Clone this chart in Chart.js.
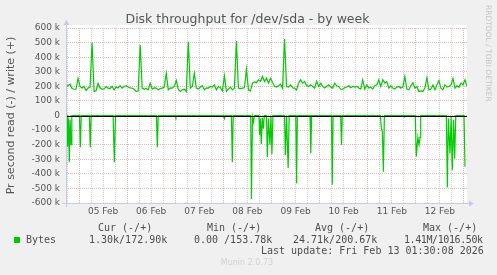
<!DOCTYPE html>
<html>
<head>
<meta charset="utf-8">
<script src="https://cdn.jsdelivr.net/npm/chart.js@4.4.1/dist/chart.umd.min.js"></script>
<style>
  body { margin: 0; background: #f0f0f0; }
  #wrap { position: relative; width: 497px; height: 275px; overflow: hidden; }
  #c { position: absolute; left: 0; top: 0; }
  .title { position: absolute; left: 0; width: 495px; top: 11px; text-align: center; font: 12.5px 'DejaVu Sans', sans-serif; color: #555555; line-height: 16px; white-space: pre; }
  .t { position: absolute; font: 10px 'DejaVu Sans Mono', monospace; color: #4d4d4d; line-height: 12px; white-space: pre; }
  .sq { position: absolute; left: 14px; top: 237px; width: 6px; height: 6px; background: #00cc00; }
  .munin { position: absolute; left: 0; width: 494px; top: 258px; text-align: center; font: 8px 'DejaVu Sans', sans-serif; color: #d2d2d2; }
  .rrd { position: absolute; left: 484px; top: 5px; writing-mode: vertical-rl; font: 7.5px 'DejaVu Sans', sans-serif; color: #c4c4c4; white-space: pre; }
</style>
</head>
<body>
<div id="wrap">
  <canvas id="c" width="497" height="275"></canvas>
  <div class="title" id="title"></div>
  <div class="rrd">RRDTOOL / TOBI OETIKER</div>
  <div class="t" style="left:98px;top:222px">Cur (-/+)</div>
  <div class="t" style="left:207px;top:222px">Min (-/+)</div>
  <div class="t" style="left:315px;top:222px">Avg (-/+)</div>
  <div class="t" style="left:423px;top:222px">Max (-/+)</div>
  <div class="sq"></div>
  <div class="t" style="left:26px;top:234px">Bytes</div>
  <div class="t" style="left:89px;top:234px">1.30k/172.90k</div>
  <div class="t" style="left:194px;top:234px">0.00 /153.78k</div>
  <div class="t" style="left:293px;top:234px">24.71k/200.67k</div>
  <div class="t" style="left:404px;top:234px;letter-spacing:-0.4px">1.41M/1016.50k</div>
  <div class="t" style="left:261px;top:245px">Last update: Fri Feb 13 01:30:08 2026</div>
  <div class="munin">Munin 2.0.73</div>
</div>
<script>
// munin diskstats throughput, /dev/sda, week view
// time axis is in hours counted from 05 Feb 00:00

var chartTitle = 'Disk throughput for /dev/sda - by week';
var yTitle = 'Pr second read (-) / write (+)';

var xMin = -6.5;
var xMax = 193.5;

var dayLabels = ['05 Feb', '06 Feb', '07 Feb', '08 Feb', '09 Feb', '10 Feb', '11 Feb', '12 Feb'];

var yTickVals = [600, 500, 400, 300, 200, 100, 0, -100, -200, -300, -400, -500, -600];
var yTickLabels = ['600 k', '500 k', '400 k', '300 k', '200 k', '100 k', '0', '-100 k', '-200 k', '-300 k', '-400 k', '-500 k', '-600 k'];

// write (+), kB/s, one sample per hour starting at writeStart
var writeStart = -6.5;
var writeVals = [
  200, 205, 215, 185, 180, 180, 255, 200, 188, 199,
  170, 188, 195, 500, 165, 170, 220, 188, 181, 182,
  199, 188, 185, 199, 176, 195, 188, 205, 188, 199,
  204, 195, 190, 188, 180, 165, 168, 485, 188, 180,
  185, 176, 222, 181, 190, 188, 176, 185, 188, 195,
  290, 176, 190, 188, 200, 240, 178, 165, 176, 180,
  165, 505, 188, 200, 290, 188, 181, 195, 205, 176,
  190, 188, 199, 195, 210, 176, 199, 190, 168, 272,
  165, 181, 195, 176, 188, 510, 188, 185, 188, 190,
  318, 176, 169, 222, 230, 225, 245, 235, 268, 233,
  256, 222, 255, 228, 200, 195, 204, 215, 188, 525,
  199, 195, 210, 190, 188, 176, 222, 245, 222, 233,
  205, 199, 210, 200, 188, 235, 199, 222, 200, 188,
  199, 210, 195, 188, 222, 204, 199, 180, 181, 190,
  195, 204, 190, 199, 195, 199, 188, 181, 245, 181,
  210, 188, 195, 181, 204, 210, 245, 199, 245, 222,
  233, 188, 204, 188, 181, 195, 199, 188, 195, 268,
  181, 176, 204, 225, 188, 199, 165, 169, 165, 188,
  260, 176, 181, 210, 176, 210, 240, 188, 176, 210,
  195, 199, 210, 255, 188, 204, 195, 222, 210, 245,
  200
];

// read (-), kB/s, samples as (hour, value)
var readTimes = [
  -6.5, -6.0, -5.65, -5.25, -4.85, -4.45, -4.0, -3.6,
  0.2, 0.65, 1.1,
  5.15, 5.6, 6.05,
  17.0, 17.6, 18.2,
  38.6, 39.05, 39.5,
  48.0, 48.3, 48.6,
  72.0, 72.5, 73.0,
  76.0, 76.45, 76.9,
  85.6, 86.0, 86.5, 87.0, 87.5,
  89.7, 90.1, 90.5, 90.9, 91.4, 91.9, 92.4,
  93.5, 93.9, 94.5, 95.2, 95.7, 96.2, 96.7,
  102.5, 102.9, 103.5, 104.3, 104.8,
  108.1, 108.5, 108.9,
  115.2, 115.6, 116.0,
  125.9, 126.3, 126.7,
  130.5, 130.9, 131.3,
  150.3, 150.8, 151.3, 151.8, 152.3,
  161.8, 162.1, 162.4,
  167.7, 168.2, 169.0, 169.6, 170.1, 170.4,
  183.2, 183.7, 184.2, 185.0, 185.6, 186.15, 186.8, 187.35, 187.9,
  192.0, 192.5
];
var readVals = [
  0, 0, -213, -20, -320, -30, -200, 0,
  0, -217, 0,
  0, -217, 0,
  0, -320, 0,
  0, -217, 0,
  0, -12, 0,
  0, -22, 0,
  0, -320, 0,
  0, -572, -10, -45, 0,
  0, -135, -20, -195, -15, -90, 0,
  0, -285, -20, -200, -10, -265, 0,
  0, -272, -10, -360, 0,
  0, -465, 0,
  0, -258, 0,
  0, -475, 0,
  0, -200, 0,
  0, -90, -110, -385, 0,
  0, -10, 0,
  0, -283, -150, -200, -150, 0,
  0, -494, -20, -261, -10, -375, -30, -295, 0,
  0, -352
];

document.getElementById('title').textContent = chartTitle;

var writeData = writeVals.map(function (v, i) { return { x: writeStart + i, y: v * 1000 }; });
var readData = readTimes.map(function (t, i) { return { x: t, y: readVals[i] * 1000 }; });

var majorGrid = 'rgba(225, 120, 120, 0.55)';
var minorGrid = 'rgba(150, 150, 150, 0.45)';
var axisBlue = '#c6c8f2';
var labelFont = { family: 'DejaVu Sans', size: 9 };

var bgPlugin = {
  id: 'bg',
  beforeDraw: function (chart) {
    var ctx = chart.ctx, a = chart.chartArea;
    ctx.save();
    ctx.fillStyle = '#f0f0f0';
    ctx.fillRect(0, 0, chart.width, chart.height);
    ctx.fillStyle = '#ffffff';
    ctx.fillRect(a.left, a.top - 3, a.right - a.left, a.bottom - a.top + 3);
    ctx.restore();
  }
};

var zeroPlugin = {
  id: 'zero',
  afterDatasetsDraw: function (chart) {
    var ctx = chart.ctx, a = chart.chartArea;
    var y = Math.round(chart.scales.y.getPixelForValue(0)) + 0.5;
    ctx.save();
    ctx.strokeStyle = '#000000';
    ctx.lineWidth = 1.2;
    ctx.beginPath();
    ctx.moveTo(a.left, y);
    ctx.lineTo(a.right, y);
    ctx.stroke();
    ctx.restore();
  }
};

var axisPlugin = {
  id: 'axes',
  afterDraw: function (chart) {
    var ctx = chart.ctx, a = chart.chartArea;
    var x0 = a.left + 0.5, y0 = a.bottom + 0.5;
    ctx.save();
    ctx.strokeStyle = axisBlue;
    ctx.fillStyle = axisBlue;
    ctx.lineWidth = 1;
    ctx.beginPath();
    ctx.moveTo(x0, a.bottom + 4);
    ctx.lineTo(x0, a.top - 4);
    ctx.moveTo(a.left - 3, y0);
    ctx.lineTo(a.right + 3, y0);
    ctx.stroke();
    ctx.beginPath();
    ctx.moveTo(x0 - 3, a.top - 3);
    ctx.lineTo(x0 + 3, a.top - 3);
    ctx.lineTo(x0, a.top - 8);
    ctx.closePath();
    ctx.fill();
    ctx.beginPath();
    ctx.moveTo(a.right + 2, y0 - 3);
    ctx.lineTo(a.right + 2, y0 + 3);
    ctx.lineTo(a.right + 7, y0);
    ctx.closePath();
    ctx.fill();
    ctx.restore();
  }
};

new Chart(document.getElementById('c'), {
  type: 'line',
  data: {
    datasets: [
      { label: 'write', data: writeData, borderColor: '#00cc00', borderWidth: 1.2, pointRadius: 0, tension: 0, fill: false },
      { label: 'read', data: readData, borderColor: '#00cc00', borderWidth: 1.2, pointRadius: 0, tension: 0, fill: false }
    ]
  },
  options: {
    responsive: false,
    animation: false,
    layout: { padding: { left: 0, right: 30, top: 28, bottom: 58 } },
    plugins: {
      legend: { display: false },
      tooltip: { enabled: false },
      title: { display: false }
    },
    scales: {
      x: {
        type: 'linear',
        min: xMin,
        max: xMax,
        afterBuildTicks: function (s) {
          var t = [];
          for (var h = -6; h <= xMax; h += 6) t.push({ value: h });
          s.ticks = t;
        },
        afterFit: function (s) { s.height = 14; },
        ticks: {
          autoSkip: false,
          maxRotation: 0,
          padding: 3,
          color: '#555555',
          font: labelFont,
          callback: function (v) {
            if ((v - 12) % 24 !== 0) return '';
            var k = (v - 12) / 24;
            return dayLabels[k] || '';
          }
        },
        grid: {
          drawTicks: false,
          lineWidth: 1,
          color: function (c) { return c.tick && c.tick.value % 24 === 0 ? majorGrid : minorGrid; }
        },
        border: { display: false, dash: [1, 1] }
      },
      y: {
        min: -600000,
        max: 600000,
        afterBuildTicks: function (s) {
          var t = [];
          for (var v = -600000; v <= 600000; v += 50000) t.push({ value: v });
          s.ticks = t;
        },
        afterFit: function (s) { s.width = 66; },
        ticks: {
          padding: 6,
          color: '#555555',
          font: labelFont,
          callback: function (v) {
            var k = yTickVals.indexOf(v / 1000);
            return k < 0 ? '' : yTickLabels[k];
          }
        },
        grid: {
          drawTicks: false,
          lineWidth: 1,
          color: function (c) { return c.tick && c.tick.value % 100000 === 0 ? majorGrid : minorGrid; }
        },
        border: { display: false, dash: [1, 1] },
        title: {
          display: true,
          text: yTitle,
          color: '#555555',
          font: { family: 'DejaVu Sans', size: 11 },
          padding: { top: 5, bottom: 0 }
        }
      }
    }
  },
  plugins: [bgPlugin, zeroPlugin, axisPlugin]
});
</script>
</body>
</html>
